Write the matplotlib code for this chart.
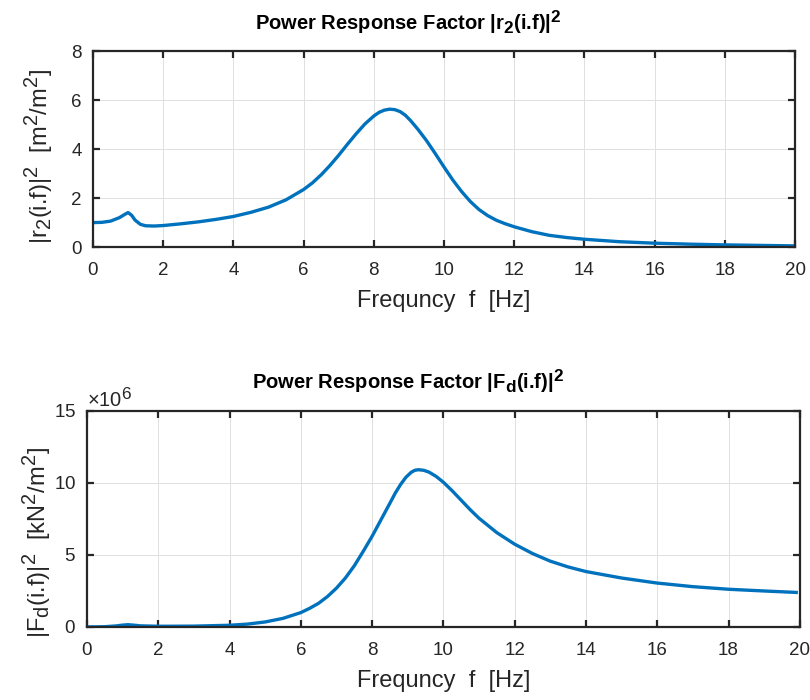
import matplotlib
matplotlib.use("Agg")
import matplotlib.pyplot as plt
from matplotlib.ticker import ScalarFormatter

try:
    import matplotlib._mathtext as _mt
    _mt.SHRINK_FACTOR = 0.85
except Exception:
    pass

plt.rcParams['font.family'] = ['Liberation Sans', 'DejaVu Sans']
plt.rcParams['mathtext.fontset'] = 'custom'
plt.rcParams['mathtext.rm'] = 'Liberation Sans'
plt.rcParams['mathtext.it'] = 'Liberation Sans:italic'
plt.rcParams['mathtext.bf'] = 'Liberation Sans:bold'

# ---- data ----
freq_r2 = [0, 0.25, 0.5, 0.75, 0.9, 1.0, 1.1, 1.2, 1.35, 1.5, 1.75, 2, 2.5, 3, 3.5, 4, 4.5,
           5, 5.5, 6, 6.25, 6.5, 6.75, 7, 7.25, 7.5, 7.75, 8, 8.15, 8.3, 8.45, 8.6, 8.75,
           8.9, 9.05, 9.25, 9.5, 9.75, 10, 10.25, 10.5, 10.75, 11, 11.25, 11.5, 11.75, 12,
           12.5, 13, 13.5, 14, 15, 16, 17, 18, 19, 20]
r2_sq = [1.0, 1.01, 1.06, 1.2, 1.33, 1.41, 1.3, 1.1, 0.93, 0.87, 0.86, 0.88, 0.95, 1.03, 1.13,
         1.25, 1.42, 1.63, 1.93, 2.35, 2.62, 2.95, 3.33, 3.75, 4.2, 4.63, 5.03, 5.35, 5.5,
         5.59, 5.63, 5.61, 5.53, 5.38, 5.16, 4.82, 4.35, 3.82, 3.27, 2.74, 2.27, 1.86, 1.53,
         1.28, 1.09, 0.95, 0.83, 0.63, 0.48, 0.39, 0.32, 0.22, 0.16, 0.12, 0.09, 0.07, 0.05]

freq_fd = [0, 0.5, 0.8, 1.0, 1.15, 1.3, 1.5, 2, 3, 4, 4.5, 5, 5.5, 6, 6.25, 6.5, 6.75, 7,
           7.25, 7.5, 7.75, 8, 8.25, 8.5, 8.65, 8.8, 8.95, 9.1, 9.2, 9.3, 9.45, 9.6, 9.8,
           10, 10.25, 10.5, 10.75, 11, 11.5, 12, 12.5, 13, 13.5, 14, 15, 16, 17, 18, 19, 19.9]
fd_sq_e6 = [0, 0.02, 0.07, 0.13, 0.16, 0.13, 0.08, 0.05, 0.06, 0.12, 0.2, 0.35, 0.6, 1.0,
            1.3, 1.65, 2.12, 2.7, 3.4, 4.25, 5.25, 6.3, 7.45, 8.6, 9.3, 9.9, 10.4, 10.75,
            10.88, 10.92, 10.88, 10.75, 10.45, 10.05, 9.45, 8.8, 8.15, 7.55, 6.55, 5.75,
            5.1, 4.57, 4.17, 3.85, 3.4, 3.05, 2.8, 2.62, 2.5, 2.4]
fd_sq = [v * 1e6 for v in fd_sq_e6]

xticks = list(range(0, 21, 2))
yticks_top = [0, 2, 4, 6, 8]
yticks_bot = [0, 5e6, 10e6, 15e6]

line_color = '#0072BD'
axis_color = '#262626'

fig = plt.figure(figsize=(8.1, 7.0), dpi=100)
ax1 = fig.add_axes([0.1148, 0.647, 0.8667, 0.28])
ax2 = fig.add_axes([0.1074, 0.1043, 0.880, 0.3086])


def style(ax):
    for s in ax.spines.values():
        s.set_color(axis_color)
        s.set_linewidth(1.6)
    ax.tick_params(axis='x', pad=11)
    ax.tick_params(axis='y', pad=8)
    ax.tick_params(direction='in', top=True, right=True, length=5, width=1.6,
                   colors=axis_color, labelsize=13.5)
    ax.grid(True, color='#e0e0e0', linewidth=0.7)
    ax.set_axisbelow(True)
    ax.set_xlim(0, 20)
    ax.set_xticks(xticks)


ax1.plot(freq_r2, r2_sq, color=line_color, linewidth=2.4)
style(ax1)
ax1.set_ylim(0, 8)
ax1.set_yticks(yticks_top)
ax1.set_xlabel('Frequncy  f  [Hz]', fontsize=17, color=axis_color, labelpad=8)
ax1.set_ylabel(r'|r$_2$(i.f)|$^2$  [m$^2$/m$^2$]', fontsize=17, color=axis_color)
ax1.yaxis.set_label_coords(-0.054, 0.46)
t1 = ax1.set_title(r'Power Response Factor |r$_\mathbf{2}$(i.f)|$^\mathbf{2}$', fontsize=14.5,
                   fontweight='bold', pad=15)
t1.set_x(0.449)

ax2.plot(freq_fd, fd_sq, color=line_color, linewidth=2.4)
style(ax2)
ax2.set_ylim(0, 15e6)
ax2.set_yticks(yticks_bot)
fmt = ScalarFormatter(useMathText=True)
fmt.set_powerlimits((6, 6))
ax2.yaxis.set_major_formatter(fmt)
ax2.yaxis.get_offset_text().set_fontsize(14.5)
ax2.yaxis.get_offset_text().set_color(axis_color)
ax2.set_xlabel('Frequncy  f  [Hz]', fontsize=17, color=axis_color, labelpad=8)
ax2.set_ylabel(r'|F$_\mathrm{d}$(i.f)|$^2$  [kN$^2$/m$^2$]', fontsize=17, color=axis_color)
ax2.yaxis.set_label_coords(-0.047, 0.39)
t2 = ax2.set_title(r'Power Response Factor |F$_\mathbf{d}$(i.f)|$^\mathbf{2}$', fontsize=14.5,
                   fontweight='bold', pad=16)
t2.set_x(0.45)

fig.savefig('out.png', dpi=100)
